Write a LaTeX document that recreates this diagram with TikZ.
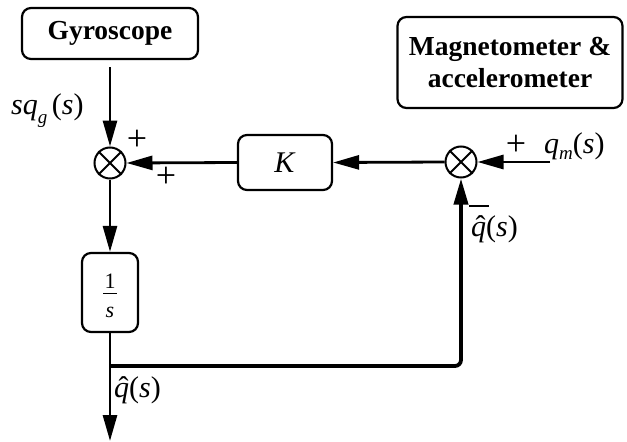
\documentclass[tikz,border=0pt]{standalone}
\usepackage{fontspec}
\setmainfont{Liberation Serif}
\usetikzlibrary{arrows.meta}
\newcommand{\qhat}{\ooalign{\textit{q}\cr\hidewidth\hspace{0.12em}\char"02C6\hidewidth\cr}}
\begin{document}
\begin{tikzpicture}[x=1pt,y=-1pt,
  blk/.style={draw,line width=2.2pt,rounded corners=9pt,inner sep=0pt},
  sumj/.style={draw,circle,line width=2pt,minimum size=31pt,inner sep=0pt},
  sig/.style={line width=2.8pt,-{Triangle[length=26pt,width=14pt]}},
  fb/.style={line width=3.8pt,rounded corners=6pt,-{Triangle[length=26pt,width=14pt]}},
  lab/.style={inner sep=0pt,font=\fontsize{30}{32}\selectfont},
  pl/.style={inner sep=0pt,font=\fontsize{36}{36}\selectfont}]
\useasboundingbox (0,0) rectangle (627,442);
\node[blk,minimum width=176pt,minimum height=51pt,font=\fontsize{27.5}{30}\selectfont\bfseries] (gyro) at (110,33.5) {Gyroscope};
\node[blk,minimum width=225pt,minimum height=91pt,align=center,font=\fontsize{27.5}{32}\selectfont\bfseries] (mag) at (510,62.5) {Magnetometer \&\\accelerometer};
\node[blk,minimum width=94pt,minimum height=55pt,font=\fontsize{30}{30}\selectfont] (K) at (285,162.5) {\textit{K}};
\node[blk,minimum width=56pt,minimum height=79pt] (int) at (110,292.5) {};
\node[inner sep=0pt,anchor=base,font=\fontsize{22}{14.5}\selectfont] (frac) at (110,288) {\begin{tabular}[t]{@{}c@{}}1\\\rule[9pt]{14pt}{1pt}\\\textit{s}\end{tabular}};
\node[sumj] (s1) at (110,163) {};
\node[sumj] (s2) at (461,162) {};
\draw[line width=2pt] (s1.north west) -- (s1.south east) (s1.north east) -- (s1.south west);
\draw[line width=2pt] (s2.north west) -- (s2.south east) (s2.north east) -- (s2.south west);
\coordinate (gout) at (110,67);
\coordinate (qm) at (550,162);
\coordinate (br) at (110,366);
\coordinate (out) at (110,441);
\draw[sig] (gout) -- (s1.north);
\draw[sig] (K.west) -- (s1.east);
\draw[sig] (s2.west) -- (K.east);
\draw[sig] (qm) -- (s2.east);
\draw[sig] (s1.south) -- (int.north);
\draw[sig] (int.south) -- (out);
\draw[fb] (br) -| (s2.south);
\node[lab,anchor=base west] (lsq) at (11,114) {\textit{sq}\raisebox{-0.3em}{\fontsize{19}{19}\selectfont\textit{g}}\hspace{0.15em}(\textit{s})};
\node[pl] (p1) at (137,140) {+};
\node[pl] (p2) at (166,177) {+};
\node[pl] (p3) at (516,145) {+};
\node[lab,anchor=base west] (lqm) at (544,153) {\textit{q}\raisebox{-0.22em}{\fontsize{19}{19}\selectfont\textit{m}}(\textit{s})};
\node[inner sep=0pt,minimum width=20pt,minimum height=2pt,fill] (mn) at (479,206) {};
\node[lab,anchor=base west] (lqh) at (471,236) {\qhat(\textit{s})};
\node[lab,anchor=base west] (lqo) at (114,397) {\qhat(\textit{s})};
\end{tikzpicture}
\end{document}
